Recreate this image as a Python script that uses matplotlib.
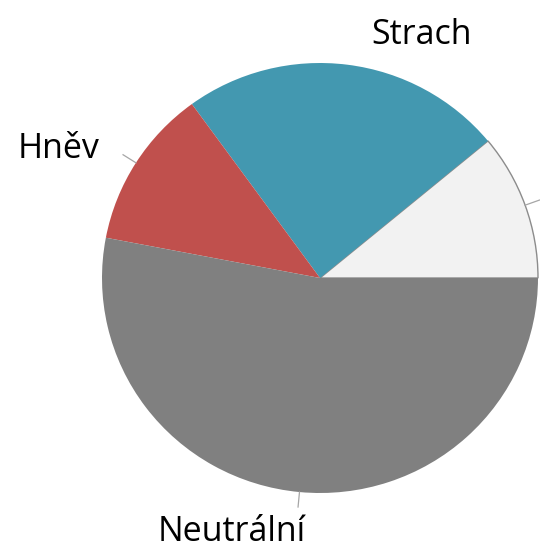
import numpy as np
import matplotlib.pyplot as plt

# Data (counter-clockwise from 3 o'clock)
labels = ['', 'Strach', 'Hněv', 'Neutrální']
values = [11, 24, 12, 53]
colors = ['#F2F2F2', '#4398B0', '#C0504D', '#808080']

plt.rcParams['font.family'] = ['Open Sans', 'DejaVu Sans']

fig = plt.figure(figsize=(5.4, 5.55), dpi=100)
ax = fig.add_axes([0, 0, 1, 1])

wedges, _ = ax.pie(values, colors=colors, startangle=0, counterclock=True,
                   radius=1.0, center=(0, 0))
wedges[0].set_edgecolor('#8C8C8C')
wedges[0].set_linewidth(1.0)

# short leader lines at wedge midpoints (Strach has none)
for w, name in zip(wedges, labels):
    if name == 'Strach':
        continue
    ang = np.deg2rad((w.theta1 + w.theta2) / 2)
    ax.plot([np.cos(ang), 1.07 * np.cos(ang)],
            [np.sin(ang), 1.07 * np.sin(ang)],
            color='#A6A6A6', lw=0.9)

# label positions (baseline)
label_pos = {'Strach': (0.468, 1.09), 'Hněv': (-1.20, 0.56), 'Neutrální': (-0.404, -1.225)}
for name, (x, y) in label_pos.items():
    ax.text(x, y, name, fontsize=24.5, ha='center', va='baseline', color='black')

ax.set_aspect('auto')
ax.set_xlim(-320 / 218, 220 / 218)
ax.set_ylim(-277 / 215, 278 / 215)
ax.axis('off')

plt.savefig('out.png', dpi=100)
